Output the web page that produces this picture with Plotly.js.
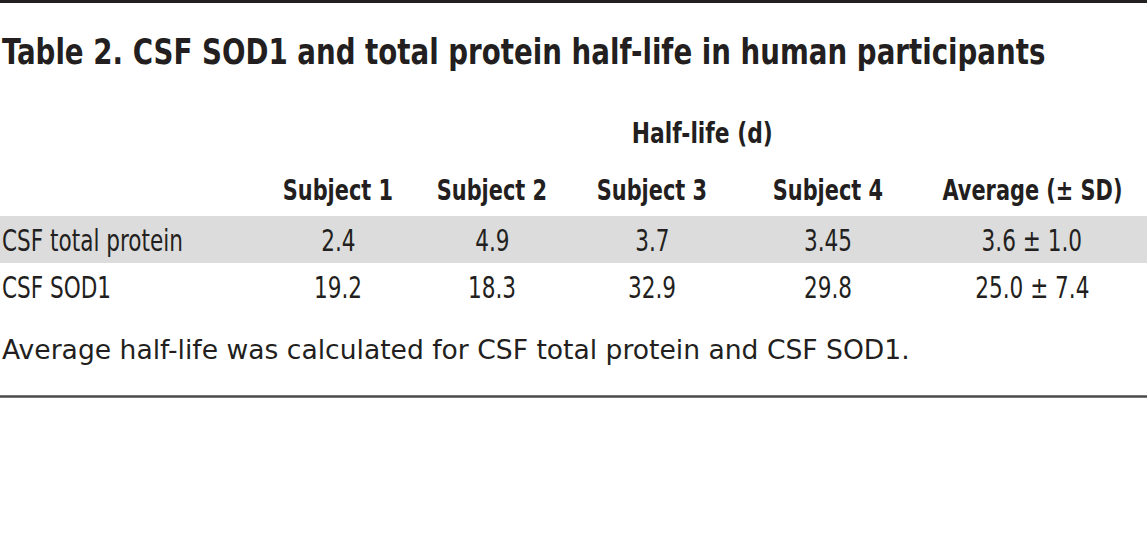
<!DOCTYPE html>
<html>
<head>
<meta charset="utf-8">
<script src="https://cdn.plot.ly/plotly-3.0.1.min.js"></script>
<style>
  html, body { margin: 0; padding: 0; background: #ffffff; }
  #chart { width: 1147px; height: 537px; }
</style>
</head>
<body>
<div id="chart"></div>
<script>
// ---- Data ----
const titleText = "Table 2. CSF SOD1 and total protein half-life in human participants";
const spanHeader = "Half-life (d)";
const columnHeaders = ["Subject 1", "Subject 2", "Subject 3", "Subject 4", "Average (± SD)"];
const rowLabels = ["CSF total protein", "CSF SOD1"];
const totalProteinHalfLife = [2.4, 4.9, 3.7, 3.45];
const sod1HalfLife = [19.2, 18.3, 32.9, 29.8];
const averageValues = [3.6, 25.0];
const sdValues = [1.0, 7.4];
const footnote = "Average half-life was calculated for CSF total protein and CSF SOD1.";

// ---- Layout / style config ----
const W = 1147, H = 537;
const colCenters = [338, 492, 652, 828, 1032];
const spanCenter = 702;
const yTitle = 51, ySpan = 133, yHeader = 190, yRows = [240, 287], yFoot = 349;
const bandTop = 216, bandBottom = 263;
const ink = "#231f20";
const condensed = "'DejaVu Sans Condensed', 'DejaVu Sans', sans-serif";
const footFont = "'DejaVu Sans', sans-serif";
const titleWidth = 1044, spanWidth = 141, footWidth = 908;   // target rendered widths (px)
const headScale = 0.80, bodyScale = 0.80;   // horizontal compression of condensed text

const rowsData = [totalProteinHalfLife, sod1HalfLife];
const fmtAvg = (m, s) => m.toFixed(1) + " ± " + s.toFixed(1);

const ann = [];
const fit = [];   // per annotation: {scale} or {width}
function addText(text, x, y, anchor, size, bold, family, fitSpec) {
  ann.push({
    text: text,
    x: x, y: y, xref: "x", yref: "y",
    xanchor: anchor, yanchor: "middle", align: anchor,
    showarrow: false,
    font: { family: family || condensed, size: size, color: ink, weight: bold ? "bold" : "normal" }
  });
  fit.push(fitSpec);
}

addText(titleText, 0, yTitle, "left", 36, true, condensed, { width: titleWidth });
addText(spanHeader, spanCenter, ySpan, "center", 29, true, condensed, { width: spanWidth });
columnHeaders.forEach((h, i) => addText(h, colCenters[i], yHeader, "center", 29, true, condensed, { scale: headScale }));
rowLabels.forEach((lab, r) => {
  addText(lab, 0, yRows[r], "left", 30, false, condensed, { scale: bodyScale });
  rowsData[r].forEach((v, c) => addText(String(v), colCenters[c], yRows[r], "center", 30, false, condensed, { scale: bodyScale }));
  addText(fmtAvg(averageValues[r], sdValues[r]), colCenters[4], yRows[r], "center", 30, false, condensed, { scale: bodyScale });
});
addText(footnote, 0, yFoot, "left", 26.5, false, footFont, { width: footWidth });

const shapes = [
  { type: "rect", xref: "paper", yref: "y", x0: 0, x1: 1, y0: bandTop, y1: bandBottom,
    fillcolor: "#dcdcdc", line: { width: 0 }, layer: "below" },
  { type: "line", xref: "paper", yref: "y", x0: 0, x1: 1, y0: 1.5, y1: 1.5,
    line: { color: "#231f20", width: 3 } },
  { type: "line", xref: "paper", yref: "y", x0: 0, x1: 1, y0: 396.5, y1: 396.5,
    line: { color: "#4a4a4a", width: 2.5 } }
];

const layout = {
  width: W, height: H,
  margin: { l: 0, r: 0, t: 0, b: 0, pad: 0 },
  paper_bgcolor: "#ffffff", plot_bgcolor: "#ffffff",
  xaxis: { range: [0, W], visible: false, fixedrange: true },
  yaxis: { range: [H, 0], visible: false, fixedrange: true },
  showlegend: false,
  annotations: ann,
  shapes: shapes
};

// Horizontally compress each annotation's text (and its box) about its anchor point.
function condenseTexts(gd) {
  const groups = gd.querySelectorAll("g.annotation");
  groups.forEach((g, i) => {
    const spec = fit[i];
    const el = g.querySelector("text.annotation-text");
    if (!spec || !el) return;
    const natural = el.getComputedTextLength();
    const sx = spec.width ? spec.width / natural : spec.scale;
    const ax = parseFloat(el.getAttribute("x")) || 0;
    const tf = "translate(" + (ax * (1 - sx)).toFixed(2) + ",0) scale(" + sx.toFixed(4) + ",1)";
    el.setAttribute("transform", tf);
    const rect = g.querySelector("rect.bg");
    if (rect) rect.setAttribute("transform", tf);
  });
}

Plotly.newPlot("chart", [{ x: [], y: [], type: "scatter", mode: "markers", hoverinfo: "skip" }], layout,
  { staticPlot: true, displayModeBar: false }).then(condenseTexts);
</script>
</body>
</html>
